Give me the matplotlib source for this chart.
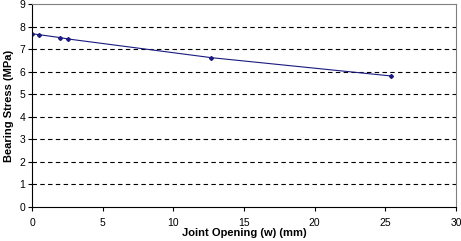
import matplotlib
matplotlib.use('Agg')
import matplotlib.pyplot as plt

opening = [0, 0.5, 2.0, 2.54, 12.7, 25.4]
stress = [7.68, 7.64, 7.51, 7.45, 6.62, 5.81]

plt.rcParams['font.family'] = ['Liberation Sans', 'DejaVu Sans']

fig = plt.figure(figsize=(4.61, 2.41), dpi=100)
ax = fig.add_axes([32 / 461, 1 - 207 / 241, 424 / 461, 203 / 241])

ax.plot(opening, stress, '-', color='#1a1a80', lw=0.8, marker='D', ms=2)

ax.set_xlim(0, 30)
ax.set_ylim(0, 9)
ax.set_xticks(range(0, 31, 5))
ax.set_yticks(range(0, 10))
for y in range(1, 9):
    ax.axhline(y, color='black', lw=0.8, ls=(0, (4, 3)), zorder=0)

ax.spines['top'].set_color('#808080')
ax.spines['right'].set_color('#808080')
ax.spines['left'].set_linewidth(0.8)
ax.spines['bottom'].set_linewidth(0.8)
ax.tick_params(labelsize=7.5, length=3, width=0.8, pad=2)
ax.tick_params(axis='x', pad=5)

ax.set_xlabel('Joint Opening (w) (mm)', fontsize=8, fontweight='bold', labelpad=0)
ax.set_ylabel('Bearing Stress (MPa)', fontsize=8, fontweight='bold', labelpad=4)

fig.savefig('out.png', dpi=100)
